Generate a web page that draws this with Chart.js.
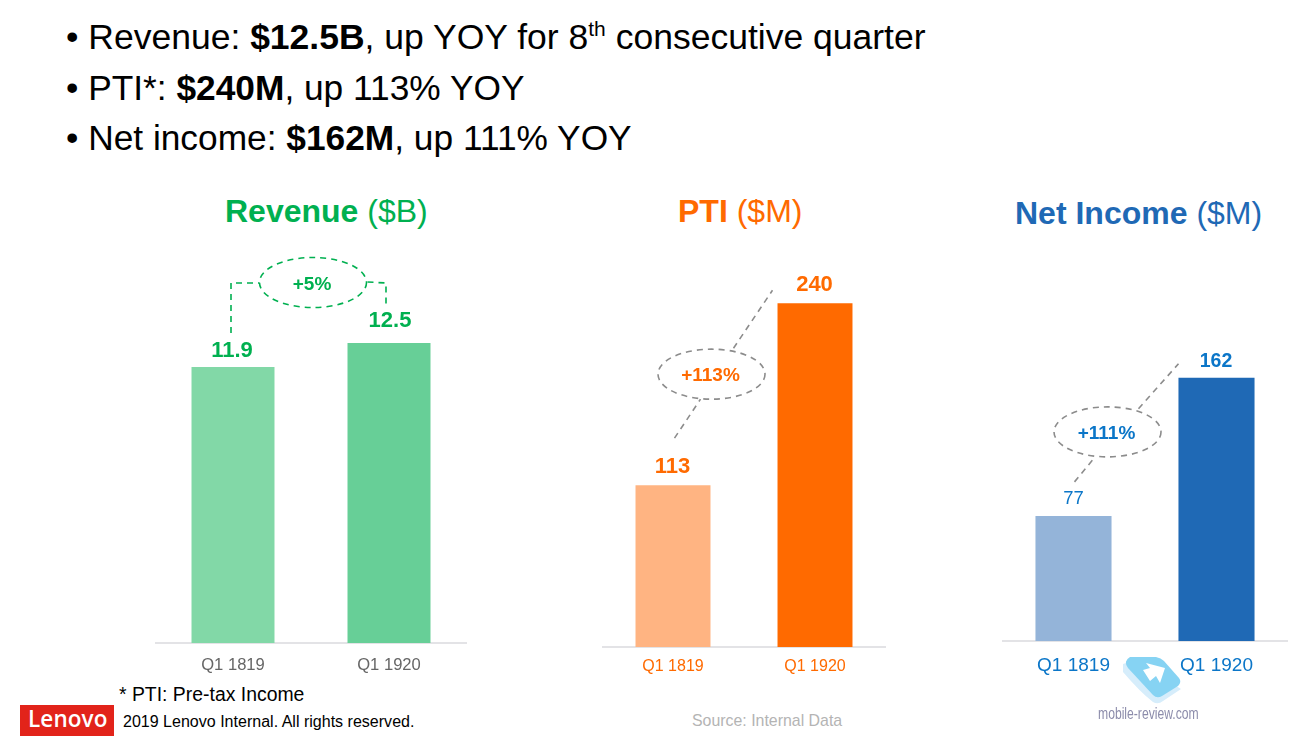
<!DOCTYPE html>
<html>
<head>
<meta charset="utf-8">
<title>Lenovo Q1 FY1920</title>
<script src="https://cdn.jsdelivr.net/npm/chart.js@4/dist/chart.umd.min.js"></script>
<style>
  html, body { margin: 0; padding: 0; background: #fff; overflow: hidden; }
  body { width: 1298px; height: 747px; position: relative; font-family: "Liberation Sans", Arial, sans-serif; }
  .abs { position: absolute; white-space: nowrap; line-height: 1; }
  canvas { position: absolute; }
  .bullet { font-size: 35.3px; color: #000; left: 66px; }
  .bullet sup { font-size: 21px; line-height: 0; vertical-align: 13px; }
  .title { font-size: 32px; top: 195px; }
  .title b { font-weight: 700; }
</style>
</head>
<body>

<div class="abs bullet" style="top:20px;font-size:35.5px">• Revenue: <b>$12.5B</b>, up YOY for 8<sup>th</sup> consecutive quarter</div>
<div class="abs bullet" style="top:70px">• PTI*: <b>$240M</b>, up 113% YOY</div>
<div class="abs bullet" style="top:120px">• Net income: <b>$162M</b>, up 111% YOY</div>

<div class="abs title" style="left:225px;color:#00b050"><b>Revenue</b> ($B)</div>
<div class="abs title" style="left:678px;color:#ff6a00"><b>PTI</b> ($M)</div>
<div class="abs title" style="left:1015px;top:197px;color:#1f69b5"><b>Net Income</b> ($M)</div>

<canvas id="revenue" width="312" height="437" style="left:155px;top:243px"></canvas>
<canvas id="pti" width="284" height="438" style="left:602px;top:246px"></canvas>
<canvas id="net" width="286" height="429" style="left:1002px;top:251px"></canvas>

<div class="abs" style="left:119px;top:685px;font-size:19.4px;color:#000">* PTI: Pre-tax Income</div>
<div class="abs" style="left:20px;top:705px;width:94px;height:31px;background:#e2231a"></div>
<div class="abs" style="left:28px;top:708px;font-family:'Open Sans';font-size:22.5px;font-weight:600;color:#fff;letter-spacing:.1px">Lenovo</div>
<div class="abs" style="left:123px;top:713px;font-size:16.05px;color:#000">2019 Lenovo Internal. All rights reserved.</div>
<div class="abs" style="left:692px;top:713px;font-size:15.9px;color:#b4b4b4">Source: Internal Data</div>

<!-- watermark -->
<svg class="abs" style="left:1115px;top:650px" width="75" height="60" viewBox="1115 650 75 60">
  <path d="M1123 664 L1123 672 Q1140 692 1153 702 Q1158 705 1163 701 L1181 689 L1170 682 L1135 660 Z" fill="#d6edfb"/>
  <path d="M1130 657 L1156 657 Q1161 658 1164 661 L1179 678 Q1182 682 1178 686 L1162 696 Q1157 699 1153 695 L1128 668 Q1123 661 1130 657 Z" fill="#86d3f3"/>
  <path d="M1146 663 L1165 668 L1160 683 L1156 676 L1150 681 L1143 670 L1150 668 Z" fill="#fff"/>
</svg>
<div class="abs" style="left:1098px;top:706px;font-size:16px;color:#8c8cab;transform:scaleX(.76);transform-origin:0 0">mobile-review.com</div>

<script>
// values
const periods = ['Q1 1819', 'Q1 1920'];
const revenueValues = [11.9, 12.5];
const ptiValues = [113, 240];
const netValues = [77, 162];
const revenueLabels = ['11.9', '12.5'];
const ptiLabels = ['113', '240'];
const netLabels = ['77', '162'];

// draws value labels, the dashed links and the growth bubble next to the bars
const barNotes = {
    id: 'barNotes',
    afterDatasetsDraw: function (chart, args, opts) {
        const ctx = chart.ctx;
        const values = chart.data.datasets[0].data;
        const p = values.map(function (v, i) {
            return { x: chart.scales.x.getPixelForValue(i), y: chart.scales.y.getPixelForValue(v) };
        });
        ctx.save();

        // value labels
        ctx.textAlign = 'center';
        ctx.textBaseline = 'alphabetic';
        ctx.fillStyle = opts.labelColor;
        opts.labels.forEach(function (txt, i) {
            ctx.font = opts.labelFonts[i];
            ctx.fillText(txt, p[i].x + opts.labelShift[i], p[i].y - opts.labelGap[i]);
        });

        // dashed links, offsets are from the top centre of each bar
        ctx.strokeStyle = opts.linkColor;
        ctx.lineWidth = 1.6;
        ctx.setLineDash([6, 5]);
        opts.links.forEach(function (link, i) {
            ctx.beginPath();
            link.forEach(function (o, k) {
                if (k === 0) ctx.moveTo(p[i].x + o[0], p[i].y + o[1]);
                else ctx.lineTo(p[i].x + o[0], p[i].y + o[1]);
            });
            ctx.stroke();
        });

        // bubble
        const cx = p[0].x + opts.bubble[0];
        const cy = p[0].y + opts.bubble[1];
        ctx.beginPath();
        ctx.ellipse(cx, cy, 53.5, 25, 0, 0, Math.PI * 2);
        ctx.stroke();
        ctx.setLineDash([]);
        ctx.fillStyle = opts.bubbleColor;
        ctx.font = 'bold 19px "Liberation Sans"';
        ctx.textBaseline = 'middle';
        ctx.fillText(opts.bubbleText, cx - 1, cy + 2);
        ctx.restore();
    }
};

function drawChart(id, values, colors, barShare, yMin, yMax, axisHeight, tickFont, tickColor, tickPad, notes) {
    return new Chart(document.getElementById(id), {
        type: 'bar',
        data: {
            labels: periods,
            datasets: [{
                data: values,
                backgroundColor: colors,
                categoryPercentage: 1,
                barPercentage: barShare
            }]
        },
        plugins: [barNotes],
        options: {
            responsive: false,
            animation: false,
            devicePixelRatio: 1,
            layout: { padding: 0 },
            scales: {
                x: {
                    afterFit: function (scale) { scale.height = axisHeight; },
                    grid: { drawOnChartArea: false, drawTicks: false },
                    border: { color: '#e3e3e6', width: 2 },
                    ticks: {
                        color: tickColor,
                        padding: tickPad,
                        maxRotation: 0,
                        font: { family: 'Liberation Sans', size: tickFont }
                    }
                },
                y: { display: false, min: yMin, max: yMax }
            },
            plugins: {
                legend: { display: false },
                tooltip: { enabled: false },
                barNotes: notes
            }
        }
    });
}

drawChart('revenue', revenueValues, ['#82d8a7', '#67cf97'], 0.532, 5, 15, 37, 16.6, '#666666', 12, {
    labels: revenueLabels,
    labelFonts: ['bold 22px "Liberation Sans"', 'bold 22px "Liberation Sans"'],
    labelGap: [10, 16],
    labelShift: [-1, 1],
    labelColor: '#00b050',
    linkColor: '#00b050',
    links: [
        [[-2, -34], [-2, -84], [26.5, -84]],
        [[-21.5, -61], [-3, -60], [-3, -38]]
    ],
    bubble: [80, -84.5],
    bubbleText: '+5%',
    bubbleColor: '#00b050'
});

drawChart('pti', ptiValues, ['#ffb482', '#ff6a00'], 0.528, 0, 280, 37, 16, '#ff6a00', 10, {
    labels: ptiLabels,
    labelFonts: ['bold 22px "Liberation Sans"', 'bold 22px "Liberation Sans"'],
    labelGap: [12, 12],
    labelShift: [-0.5, -0.5],
    labelColor: '#ff6a00',
    linkColor: '#8c8c8c',
    links: [
        [[1.5, -47], [27.5, -86]],
        [[-81.5, 45], [-42.5, -13]]
    ],
    bubble: [38.5, -111],
    bubbleText: '+113%',
    bubbleColor: '#ff6a00'
});

drawChart('net', netValues, ['#94b4d9', '#1f69b5'], 0.532, 0, 240, 39, 19, '#0b76c8', 13, {
    labels: netLabels,
    labelFonts: ['18.5px "Liberation Sans"', 'bold 19.5px "Liberation Sans"'],
    labelGap: [12, 11],
    labelShift: [0, -0.5],
    labelColor: '#0b76c8',
    linkColor: '#8c8c8c',
    links: [
        [[1, -34], [20, -57]],
        [[-78, 31], [-38, -14]]
    ],
    bubble: [34, -84],
    bubbleText: '+111%',
    bubbleColor: '#0b76c8'
});
</script>
</body>
</html>
